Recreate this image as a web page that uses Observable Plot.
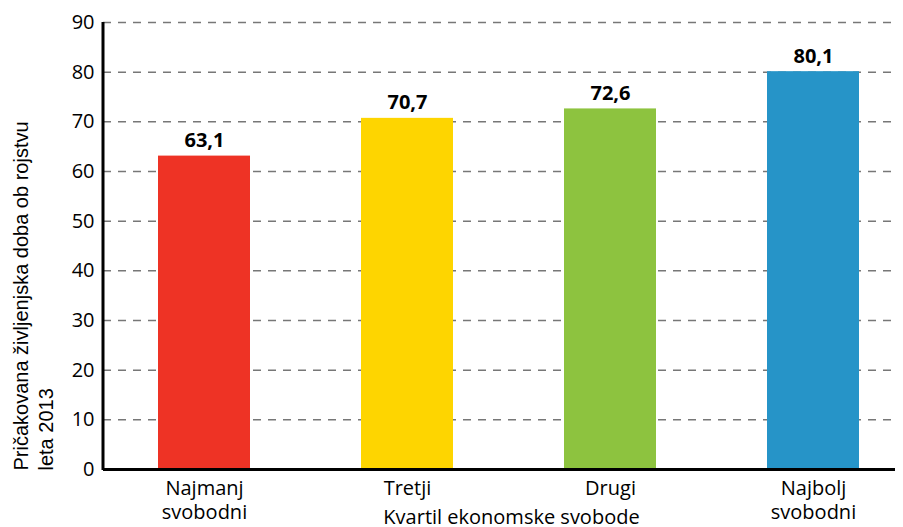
<!DOCTYPE html>
<html>
<head>
<meta charset="utf-8">
<script src="https://cdn.jsdelivr.net/npm/d3@7"></script>
<script src="https://cdn.jsdelivr.net/npm/@observablehq/plot@0.6"></script>
<style>
  html, body { margin: 0; padding: 0; background: #fff; }
  svg { display: block; }
</style>
</head>
<body>
<div id="chart"></div>
<script>
const categories = ["Najmanj\nsvobodni", "Tretji", "Drugi", "Najbolj\nsvobodni"];
const values = [63.1, 70.7, 72.6, 80.1];
const colors = ["#EE3325", "#FED500", "#8DC33F", "#2694C8"];
const yTicks = [0, 10, 20, 30, 40, 50, 60, 70, 80, 90];
const gridTicks = [10, 20, 30, 40, 50, 60, 70, 80, 90];
const yTitle = "Pričakovana življenjska doba ob rojstvu\nleta 2013";
const xTitle = "Kvartil ekonomske svobode";

const data = categories.map((c, i) => ({cat: c, value: values[i], color: colors[i]}));
const fmt = v => v.toFixed(1).replace(".", ",");
const FONT = "'Open Sans', sans-serif";

const chart = Plot.plot({
  width: 903,
  height: 527,
  marginTop: 22,
  marginBottom: 58,
  marginLeft: 103,
  marginRight: 8,
  style: {fontFamily: FONT, fontSize: "20px", color: "#000", background: "#fff"},
  x: {domain: categories, range: [158, 859], paddingInner: 0.547, paddingOuter: 0},
  y: {domain: [0, 90]},
  marks: [
    Plot.ruleY(gridTicks, {stroke: "#777", strokeWidth: 1.5, strokeDasharray: "8,7"}),
    Plot.barY(data, {x: "cat", y: "value", fill: "color"}),
    Plot.text(data, {x: "cat", y: "value", text: d => fmt(d.value), dy: -9, lineAnchor: "bottom", fontWeight: "bold", fontSize: 20}),
    Plot.ruleY([0], {stroke: "#000", strokeWidth: 3}),
    Plot.axisY({ticks: yTicks, tickSize: 0, tickPadding: 9, label: null, fontSize: 20}),
    Plot.axisX({tickSize: 0, tickPadding: 8, label: null, fontSize: 20, lineHeight: 1.2}),
    Plot.text([xTitle], {frameAnchor: "bottom", dx: 12, dy: 54, lineAnchor: "bottom", fontSize: 20}),
    Plot.text([yTitle], {frameAnchor: "bottom-left", rotate: -90, textAnchor: "start", lineAnchor: "top", dx: -94, dy: 1, fontSize: 20, fontFamily: "'Liberation Sans', Arial, sans-serif", lineHeight: 1.28})
  ]
});
document.getElementById("chart").append(chart);
const svg = d3.select(chart);
svg.append("line").attr("x1", 103).attr("x2", 103).attr("y1", 22).attr("y2", 470).attr("stroke", "#000").attr("stroke-width", 3);
</script>
</body>
</html>
